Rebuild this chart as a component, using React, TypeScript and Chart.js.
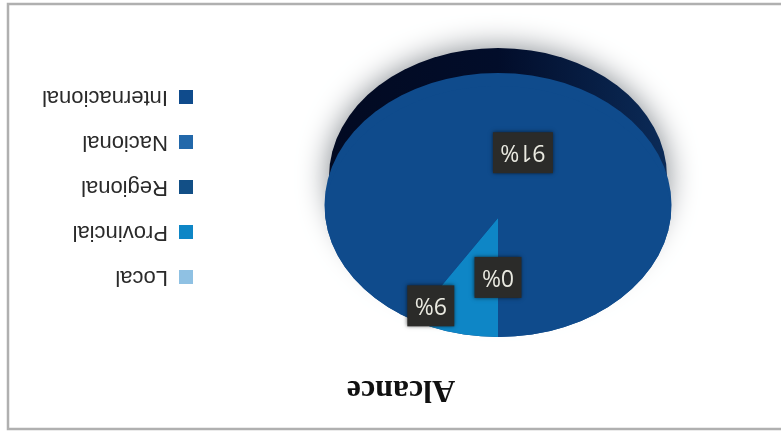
import React, { useEffect, useRef } from "react";
import { Chart, registerables } from "chart.js";

Chart.register(...registerables);

const categories = ["Local", "Provincial", "Regional", "Nacional", "Internacional"];
const shares = [0, 9, 0, 0, 91];
const sliceColors = ["#8fc1e3", "#0e86c6", "#124f86", "#2268aa", "#0f4b8c"];
const labelledSlices = [0, 1, 4];

// Geometry of the tilted disc, in canvas coordinates (the canvas is turned half a turn by CSS).
const DISC = { apexX: 283, apexY: 214, faceY: 227, rx: 173.5, ry: 132 };
const RIM = { x: 283, y: 255, rx: 169, ry: 129 };
// Where each value tag sits along its slice: fraction of the radius and extra turn in degrees.
const TAG_PLACEMENT: Record<number, { r: number; turn: number }> = {
  0: { r: 0.45, turn: 0 },
  1: { r: 0.77, turn: 14 },
  4: { r: 0.515, turn: 0 },
};

const framePlugin = {
  id: "frame",
  beforeDraw(chart: any) {
    const { ctx, width, height } = chart;
    ctx.save();
    ctx.fillStyle = "#ffffff";
    ctx.fillRect(0, 0, width, height);
    ctx.strokeStyle = "#b0b0b0";
    ctx.lineWidth = 2.5;
    // Open on one side: the frame runs off the edge of the page
    ctx.beginPath();
    ctx.moveTo(0, 3);
    ctx.lineTo(width - 8, 3);
    ctx.lineTo(width - 8, height - 4);
    ctx.lineTo(0, height - 4);
    ctx.stroke();
    ctx.restore();
  },
};

const discPlugin = {
  id: "disc",
  beforeDatasetDraw(chart: any) {
    const { ctx } = chart;
    const arc = chart.getDatasetMeta(0).data[0];
    const R = arc.outerRadius;
    // Rim with its soft cast shadow
    ctx.save();
    ctx.shadowColor = "rgba(40,50,60,0.6)";
    ctx.shadowBlur = 30;
    const rim = ctx.createLinearGradient(RIM.x - RIM.rx, 0, RIM.x + RIM.rx, 0);
    rim.addColorStop(0, "#0b2b58");
    rim.addColorStop(0.5, "#020d2a");
    rim.addColorStop(1, "#020a22");
    ctx.fillStyle = rim;
    ctx.beginPath();
    ctx.ellipse(RIM.x, RIM.y, RIM.rx, RIM.ry, 0, 0, Math.PI * 2);
    ctx.fill();
    ctx.restore();
    // Top face
    ctx.save();
    ctx.fillStyle = sliceColors[4];
    ctx.beginPath();
    ctx.ellipse(DISC.apexX, DISC.faceY, DISC.rx, DISC.ry, 0, 0, Math.PI * 2);
    ctx.fill();
    ctx.clip();
    // Slices are squashed onto the face; restored after the dataset is drawn
    ctx.translate(DISC.apexX, DISC.apexY);
    ctx.scale(DISC.rx / R, DISC.ry / R);
    ctx.translate(-arc.x, -arc.y);
  },
  afterDatasetDraw(chart: any) {
    chart.ctx.restore();
  },
  afterDatasetsDraw(chart: any) {
    const { ctx } = chart;
    const arcs = chart.getDatasetMeta(0).data;
    ctx.save();
    ctx.font = "23px 'Open Sans'";
    ctx.textAlign = "center";
    ctx.textBaseline = "middle";
    labelledSlices.forEach((i) => {
      const arc = arcs[i];
      const place = TAG_PLACEMENT[i];
      const mid = (arc.startAngle + arc.endAngle) / 2 + (place.turn * Math.PI) / 180;
      const x = DISC.apexX + Math.cos(mid) * DISC.rx * place.r;
      const y = DISC.apexY + Math.sin(mid) * DISC.ry * place.r;
      const text = `${shares[i]}%`;
      const w = i === 4 ? 60 : 47;
      const h = 41;
      ctx.save();
      ctx.shadowColor = "rgba(0,0,0,0.6)";
      ctx.shadowBlur = 4;
      ctx.fillStyle = "#2b2b29";
      ctx.fillRect(x - w / 2, y - h / 2, w, h);
      ctx.restore();
      ctx.fillStyle = "#e9e9e0";
      ctx.fillText(text, x, y + 1);
    });
    ctx.restore();
  },
};

export default function App() {
  const ref = useRef<HTMLCanvasElement>(null);
  useEffect(() => {
    const chart = new Chart(ref.current!, {
      type: "pie",
      data: {
        labels: categories,
        datasets: [{ data: shares, backgroundColor: sliceColors, borderWidth: 0 }],
      },
      options: {
        responsive: false,
        animation: false,
        layout: { padding: { left: 11, right: 32, top: 12, bottom: 63 } },
        plugins: {
          title: {
            display: true,
            text: "Alcance",
            color: "#111111",
            font: { family: "'Liberation Serif'", size: 32, weight: "bold" },
            padding: { top: 12, bottom: 8 },
          },
          legend: {
            position: "right",
            align: "end",
            labels: {
              boxWidth: 14,
              boxHeight: 14,
              padding: 23,
              color: "#2a2a2a",
              font: { family: "'Liberation Sans'", size: 22 },
            },
          },
          tooltip: { enabled: false },
        },
      },
      plugins: [framePlugin, discPlugin],
    } as any);
    return () => chart.destroy();
  }, []);
  return (
    <canvas
      ref={ref}
      width={781}
      height={432}
      style={{ position: "fixed", left: 0, top: 0, transform: "rotate(180deg)" }}
    />
  );
}
